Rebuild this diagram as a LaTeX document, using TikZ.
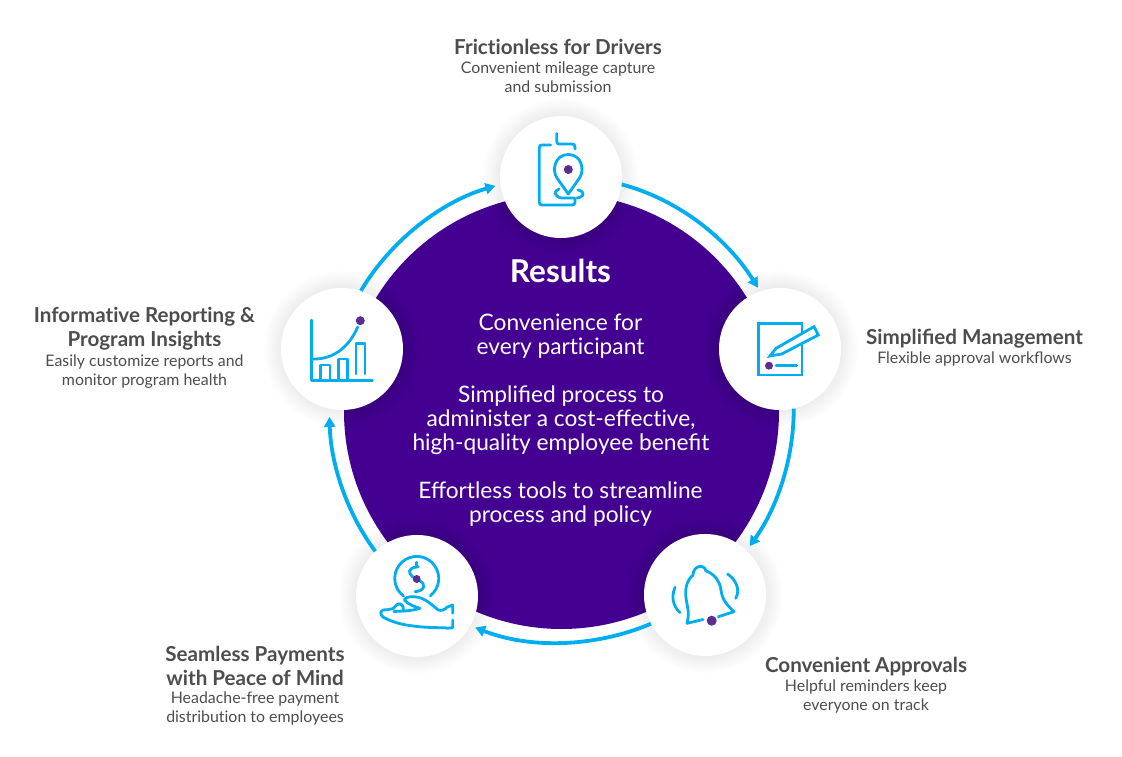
\documentclass[tikz,border=0pt]{standalone}
\usepackage{fontspec}
\setmainfont{Lato}
\usetikzlibrary{arrows.meta}
\definecolor{hubpurple}{HTML}{430091}
\definecolor{ringblue}{HTML}{00AEEF}
\definecolor{dotpurple}{HTML}{5B2D91}
\definecolor{inkgrey}{HTML}{4D4D4D}
\newcommand{\tilig}{t\kern0pt i}
\tikzset{
  hub/.style={circle,fill=hubpurple,minimum size=435pt,inner sep=0pt},
  station/.style={circle,fill=white,minimum size=122pt,inner sep=0pt},
  ringarrow/.style={draw=ringblue,line width=3.8pt,-{Triangle[length=10pt,width=11pt]},looseness=.88},
  icon/.style={draw=ringblue,line width=2.8pt,line cap=round,line join=round},
  dot/.style={fill=dotpurple},
  head/.style={text=inkgrey,align=center,font=\fontsize{20.6}{24}\selectfont\bfseries,inner sep=0pt},
  sub/.style={text=inkgrey,align=center,font=\fontsize{15.9}{19}\selectfont,inner sep=0pt},
  bigtext/.style={text=white,align=center,font=\fontsize{22.7}{24}\selectfont,inner sep=0pt}
}
\newcommand{\softshadow}[1]{%
  \foreach \r in {62,64,...,78}{\fill[black,opacity=.008] (#1) circle[radius=\r];}}
\begin{document}
\begin{tikzpicture}[x=1pt,y=-1pt]
\useasboundingbox (0,0) rectangle (1122,757);
\fill[white] (0,0) rectangle (1122,757);
\node[hub] (hubc) at (561.5,411.5) {};
\softshadow{561,177}\softshadow{780,349}\softshadow{705,595}\softshadow{417,596}\softshadow{342,349}
\node[station] (top) at (561,177) {};
\node[station] (right) at (780,349) {};
\node[station] (br) at (705,595) {};
\node[station] (bl) at (417,596) {};
\node[station] (left) at (342,349) {};
% ring arrows
\draw[ringarrow,shorten >=4pt] (top.-7) to[out=-14.8,in=122] (right.109);
\draw[ringarrow,shorten >=5pt] (right.-77) to[out=-90,in=54.5] (br.47);
\draw[ringarrow,shorten >=5pt] (br.208.7) to[out=-157,in=-21.6] (bl.-29);
\draw[ringarrow,shorten >=8pt] (bl.133) to[out=126.6,in=-88.5] (left.-102.4);
\draw[ringarrow,shorten >=5pt] (left.72.8) to[out=59.2,in=196.3] (top.187);
% texts
\node[text=white,font=\fontsize{31.5}{34}\selectfont\bfseries,inner sep=0pt] (restitle) at (560.5,270.5) {Results};
\node[bigtext] (t1) at (560.5,336.5) {Convenience for\\every par\tilig cipant};
\node[bigtext] (t2) at (561,420.5) {Simplified process to\\administer a cost-effec\tilig ve,\\high-quality employee benefit};
\node[bigtext] (t3) at (560.5,504.5) {Effortless tools to streamline\\process and policy};
\node[head] (h1) at (558,47) {Fric\tilig onless for Drivers};
\node[sub] (s1) at (558,77) {Convenient mileage capture\\and submission};
\node[head] (h2) at (974.5,339) {Simplified Management};
\node[sub] (s2) at (974.5,359.5) {Flexible approval workflows};
\node[head] (h3) at (866,667) {Convenient Approvals};
\node[sub] (s3) at (866,697) {Helpful reminders keep\\everyone on track};
\node[head] (h4) at (255,666) {Seamless Payments\\with Peace of Mind};
\node[sub] (s4) at (255,709) {Headache-free payment\\distribu\tilig on to employees};
\node[head] (h5) at (144.5,329) {Informa\tilig ve Repor\tilig ng \&\\Program Insights};
\node[sub] (s5) at (144.5,372) {Easily customize reports and\\monitor program health};
% icon: phone with pin
\draw[icon] (550.7,145) -- (542,145) .. controls (540,145) and (539.3,146) .. (539.3,148) -- (539.3,202) .. controls (539.3,204) and (540,205) .. (542,205) -- (572,205) .. controls (574,205) and (575,204) .. (575,202) -- (575,199) .. controls (575,198) and (574,198) .. (573,198) -- (563,198) .. controls (556,198) and (554,193) .. (556,191) .. controls (557,190) and (558,189.5) .. (559,189);
\draw[icon] (556.7,133.5) -- (556.7,141) .. controls (556.7,143) and (557.5,144) .. (559,144) -- (572,144) .. controls (574,144) and (575,145) .. (575,147) -- (575,149);
\draw[icon] (578,190) .. controls (582,190.5) and (584,193) .. (582.5,195.5) .. controls (581.5,197) and (579,198) .. (577,198);
\draw[icon,fill=white] (568.3,194) -- (557,178) .. controls (551.5,170) and (555,154.5) .. (568.3,154.5) .. controls (581.5,154.5) and (585,170) .. (579.5,178) -- cycle;
\fill[dot] (568.3,169.5) circle[radius=4.5];
% icon: page with pencil
\draw[icon,line join=miter,line cap=butt] (758.7,323.3) rectangle (802,375);
\draw[icon,fill=white,line join=miter] (770,356) -- (776,348.3) -- (814,326.7) -- (818.3,335) -- (781.7,354) -- cycle;
\draw[icon] (776,365.7) -- (796.7,365.7);
\fill[dot] (769,365.7) circle[radius=4];
% icon: bell
\draw[icon] (687,623.3) -- (703,619.5);
\draw[icon] (687,623.3) .. controls (690,612) and (687,606) .. (686,598) .. controls (685,590) and (686,581) .. (693,575) .. controls (693,566) and (704,563) .. (706,571) .. controls (715,574) and (720,582) .. (721,590) .. controls (722,600) and (728,606) .. (734,611.7) -- (718.3,616.7);
\draw[icon] (675,587.3) .. controls (671,597) and (673,606) .. (680,612.7);
\draw[icon] (727.6,574) .. controls (735,579) and (741,589) .. (735.7,598.3);
\fill[dot] (711.7,620.7) circle[radius=5];
% icon: coin and hand
\draw[icon] (403.5,596) arc[start angle=127,end angle=412,radius=22];
\draw[icon] (416.7,562.3) -- (416.7,566.5);
\draw[icon] (418.3,566.7) .. controls (412,567) and (408,570) .. (410,573.5) .. controls (411,576) and (413,577) .. (414,577.5);
\draw[icon] (420,581) .. controls (426,584) and (425,591) .. (415,591.7);
\fill[dot] (416.7,579) circle[radius=4];
\draw[icon] (452.7,613.3) -- (452.7,605) -- (446.7,607.3) .. controls (445,610) and (441,611) .. (438.3,610) .. controls (432,605) and (428,601) .. (421.7,598.3) .. controls (417,596.5) and (410,596) .. (406.7,597.7) .. controls (404,599) and (404,600) .. (405,600.7) .. controls (408,604) and (415,607) .. (420,608.3) .. controls (414,610) and (408,611) .. (403.3,611) .. controls (404,608) and (403,604.5) .. (400,604) .. controls (396,603.5) and (396,607) .. (393.3,608.5) .. controls (390,610) and (386,609.5) .. (383.3,610) .. controls (380,611) and (380,615) .. (383.3,617.3) .. controls (392,622) and (403,625) .. (413.3,626) .. controls (424,627.5) and (435,627.7) .. (445,627.7) -- (446.7,628.3) -- (452.7,627.7) -- (452.7,620);
\draw[icon] (403.3,611) -- (394,611.5);
% icon: chart
\draw[icon] (311.7,320) -- (311.7,380.7) -- (372.3,380.7);
\draw[icon] (311.7,359) .. controls (335,360) and (350,345) .. (357.7,327);
\draw[icon] (320.7,380) -- (320.7,365) -- (330,365) -- (330,380);
\draw[icon] (338.3,380) -- (338.3,359) -- (347.3,359) -- (347.3,380);
\draw[icon] (356,374) -- (356,343.3) -- (365,343.3) -- (365,374);
\fill[dot] (360.3,320.7) circle[radius=4.5];
\end{tikzpicture}
\end{document}
